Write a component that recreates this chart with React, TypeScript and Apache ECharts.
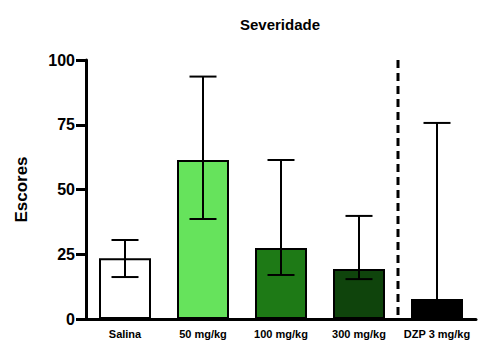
import React, { useEffect, useRef } from "react";
import * as echarts from "echarts";

const categories = ["Salina", "50 mg/kg", "100 mg/kg", "300 mg/kg", "DZP 3 mg/kg"];
const means = [23.5, 61.4, 27.4, 19.3, 7.7];
const lows = [16.2, 38.6, 17.0, 15.4, 0];
const highs = [30.5, 93.6, 61.4, 39.8, 75.7];
const colors = ["#ffffff", "#66e35c", "#1e7a16", "#0f440c", "#000000"];
const yTicks = [0, 25, 50, 75, 100];

const FONT = "'Liberation Sans', Arial, sans-serif";

export default function App() {
  const ref = useRef<HTMLDivElement>(null);
  useEffect(() => {
    if (!ref.current) return;
    const chart = echarts.init(ref.current, undefined, { renderer: "svg" });
    chart.setOption({
      animation: false,
      title: {
        text: "Severidade",
        left: 275,
        top: 12,
        textAlign: "center",
        textStyle: { fontFamily: FONT, fontWeight: "bold", fontSize: 15, color: "#000" },
      },
      grid: { left: 86, right: 2, top: 60, bottom: 24, containLabel: false },
      xAxis: {
        type: "category",
        data: categories,
        axisLine: { lineStyle: { color: "#000", width: 3 } },
        axisTick: { show: false },
        axisLabel: {
          fontFamily: FONT,
          fontWeight: "bold",
          fontSize: 11,
          color: "#000",
          margin: 9,
          interval: 0,
        },
      },
      yAxis: {
        type: "value",
        min: 0,
        max: 100,
        interval: 25,
        name: "Escores",
        nameLocation: "middle",
        nameGap: 56,
        nameTextStyle: { fontFamily: FONT, fontWeight: "bold", fontSize: 17, color: "#000" },
        axisLine: { show: true, lineStyle: { color: "#000", width: 3 } },
        axisTick: { show: true, length: 10, lineStyle: { color: "#000", width: 3 } },
        axisLabel: {
          fontFamily: FONT,
          fontWeight: "bold",
          fontSize: 16,
          color: "#000",
          margin: 11,
          formatter: (v: number) => (yTicks.includes(v) ? String(v) : ""),
        },
        splitLine: { show: false },
      },
      series: [
        {
          type: "bar",
          data: means.map((v, i) => ({
            value: v,
            itemStyle: { color: colors[i], borderColor: "#000", borderWidth: 2 },
          })),
          barWidth: 52,
          z: 2,
        },
        {
          type: "custom",
          z: 3,
          data: categories.map((_, i) => [i, lows[i], highs[i], means[i]]),
          renderItem: (params: any, api: any) => {
            const i = api.value(0);
            const lo = api.coord([i, api.value(1)]);
            const hi = api.coord([i, api.value(2)]);
            const capHalf = 13.5;
            const style = { stroke: "#000", lineWidth: 2 };
            return {
              type: "group",
              children: [
                { type: "line", shape: { x1: hi[0], y1: hi[1], x2: lo[0], y2: lo[1] }, style },
                { type: "line", shape: { x1: hi[0] - capHalf, y1: hi[1], x2: hi[0] + capHalf, y2: hi[1] }, style },
                { type: "line", shape: { x1: lo[0] - capHalf, y1: lo[1], x2: lo[0] + capHalf, y2: lo[1] }, style },
              ],
            };
          },
        },
        {
          type: "custom",
          z: 3,
          data: [[3, 4]],
          renderItem: (params: any, api: any) => {
            const a = api.coord([api.value(0), 100]);
            const b = api.coord([api.value(1), 0]);
            const x = (a[0] + b[0]) / 2;
            return {
              type: "line",
              shape: { x1: x, y1: a[1], x2: x, y2: b[1] },
              style: { stroke: "#000", lineWidth: 3, lineDash: [8, 5] },
            };
          },
        },
      ],
    });
    return () => chart.dispose();
  }, []);
  return <div ref={ref} style={{ width: 478, height: 343, position: "absolute", left: 0, top: 0 }} />;
}
